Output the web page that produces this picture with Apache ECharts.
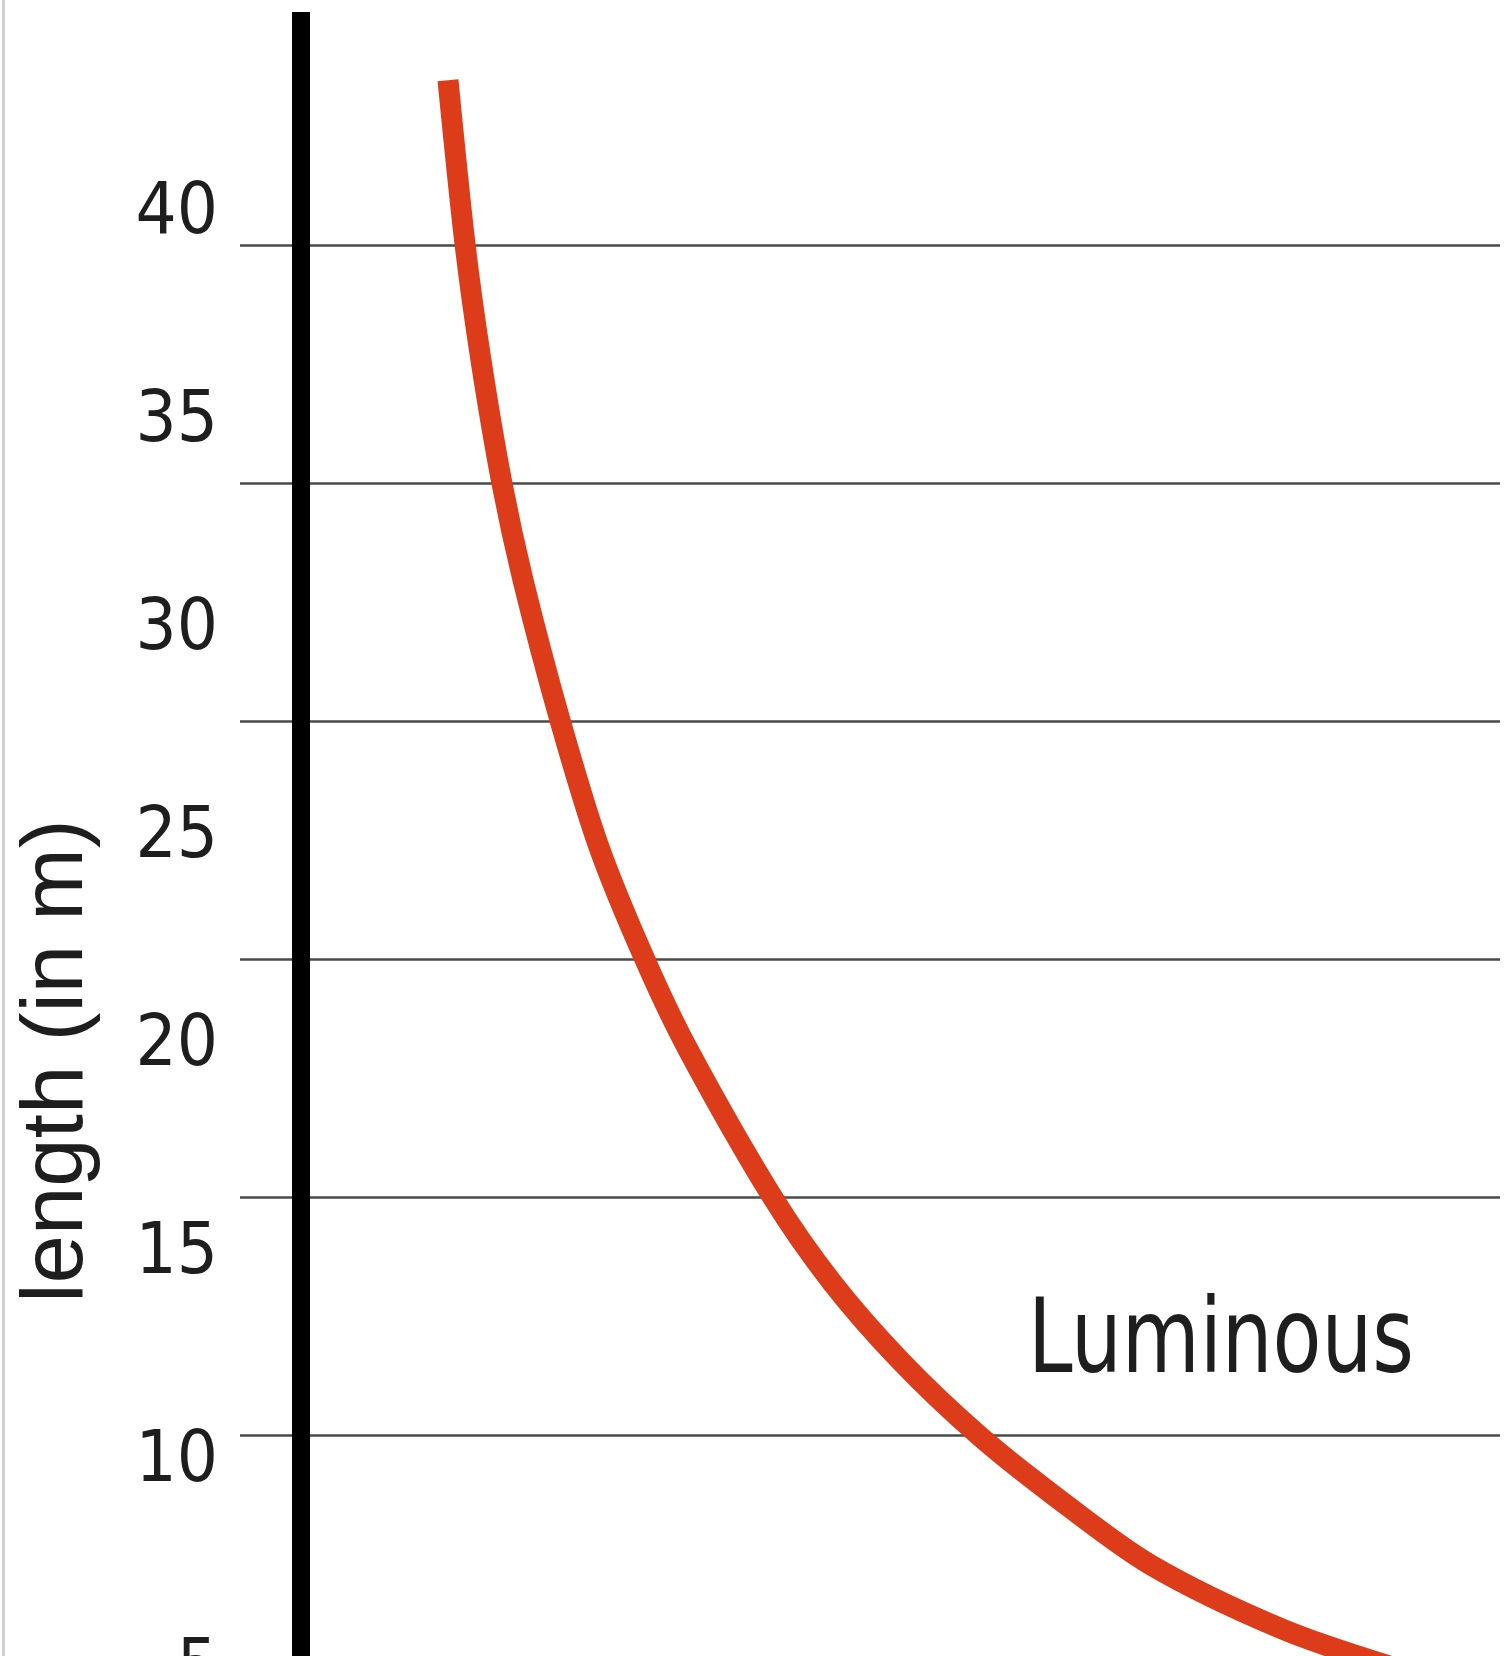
<!DOCTYPE html>
<html>
<head>
<meta charset="utf-8">
<script src="https://cdn.jsdelivr.net/npm/echarts@6/dist/echarts.min.js"></script>
<style>
html, body { margin: 0; padding: 0; background: #fff; }
#chart { width: 1507px; height: 1656px; }
</style>
</head>
<body>
<div id="chart"></div>
<script>
// ---- data ----
const yAxisTitle = 'length (in m)';
const curveLabel = 'Luminous';
const yTickMin = 0;
const yTickMax = 44.7;
const yTickStep = 5;
const gridLineMin = 15;
const gridLineMax = 40;
const gridLineStep = 5;
// hidden horizontal scale (relative position 0..100)
const xValues = [12.26, 13.68, 15.01, 16.76, 18.52, 21.60, 24.85, 28.69, 32.28, 39.28, 44.29, 50.05, 56.46, 62.47, 70.81, 81.90, 91.66];
const lengthValues = [43.06, 39.12, 36.33, 33.37, 31.04, 27.68, 24.63, 21.92, 19.76, 16.23, 14.16, 12.26, 10.50, 9.11, 7.38, 5.82, 4.86];

const FONT = "'DejaVu Sans Condensed', 'Liberation Sans', sans-serif";
const chart = echarts.init(document.getElementById('chart'), null, { renderer: 'canvas' });

const seriesData = xValues.map((x, i) => [x, lengthValues[i]]);

chart.setOption({
  animation: false,
  backgroundColor: '#ffffff',
  grid: [
    { left: 301, right: 7, top: 12, height: 1859.5, outerBoundsMode: 'none' },
    { left: 240, right: 7, top: 245, height: 1190, outerBoundsMode: 'none' },
    { left: 301, right: 7, top: 19, height: 1859.5, outerBoundsMode: 'none' }
  ],
  xAxis: [
    { gridIndex: 0, type: 'value', min: 0, max: 100, show: false },
    { gridIndex: 1, type: 'value', min: 0, max: 100, show: false },
    { gridIndex: 2, type: 'value', min: 0, max: 100, show: false }
  ],
  yAxis: [
    {
      gridIndex: 0, type: 'value', min: yTickMin, max: yTickMax, interval: yTickStep,
      axisLine: { show: true, lineStyle: { color: '#000', width: 18, cap: 'butt' } },
      axisTick: { show: false },
      splitLine: { show: false },
      axisLabel: { show: false }
    },
    {
      gridIndex: 1, type: 'value', min: gridLineMin, max: gridLineMax, interval: gridLineStep,
      axisLine: { show: false }, axisTick: { show: false }, axisLabel: { show: false },
      splitLine: { show: true, lineStyle: { color: '#4a4a4a', width: 2.5 } }
    },
    {
      gridIndex: 2, type: 'value', min: yTickMin, max: yTickMax, interval: yTickStep,
      axisLine: { show: false }, axisTick: { show: false }, splitLine: { show: false },
      axisLabel: {
        show: true, showMaxLabel: false, margin: 83,
        fontFamily: FONT, fontSize: 72, color: '#1e1e1e'
      }
    }
  ],
  graphic: [
    { type: 'rect', shape: { x: 2, y: 0, width: 3, height: 1656 }, style: { fill: '#d0d0d0' }, z: 100 },
    {
      type: 'text', x: 58, y: 1061, rotation: Math.PI / 2,
      style: { text: yAxisTitle, font: "87px 'Liberation Sans', sans-serif", fill: '#1e1e1e', align: 'center', verticalAlign: 'middle' }
    },
    {
      type: 'text', x: 1028, y: 1345, scaleX: 0.855,
      style: { text: curveLabel, font: "104px " + FONT, fill: '#1e1e1e', align: 'left', verticalAlign: 'middle' }
    }
  ],
  series: [
    {
      type: 'line', xAxisIndex: 0, yAxisIndex: 0,
      data: seriesData, smooth: 0.3, showSymbol: false, symbol: 'none',
      lineStyle: { color: '#dd3c1a', width: 21, cap: 'butt' },
      z: 10
    }
  ]
});
</script>
</body>
</html>
